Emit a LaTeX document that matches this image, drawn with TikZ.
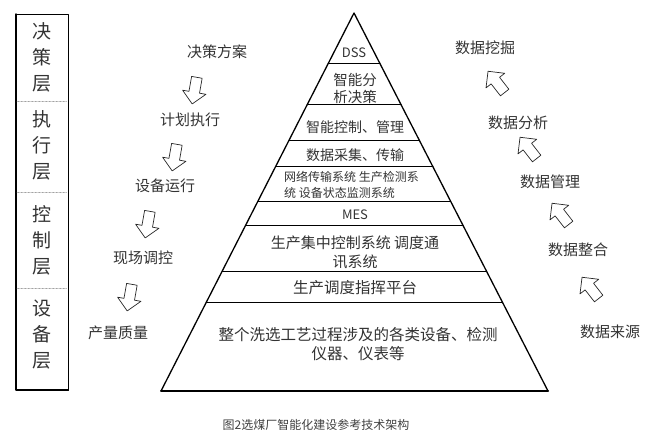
\documentclass[tikz,border=0pt]{standalone}
\usepackage{fontspec}
\setmainfont{Noto Sans CJK SC}
\usetikzlibrary{calc,shapes.arrows}
\begin{document}
\begin{tikzpicture}[x=1pt,y=-1pt,line cap=round,line join=round,
  every node/.style={text=black!80,inner sep=0pt,align=center},
  flow/.style={font=\fontsize{15}{18}\selectfont},
  tier/.style={font=\fontsize{14}{17}\selectfont},
  hollow/.style={draw=black!85,fill=white,single arrow,single arrow head extend=6.5pt,
    minimum height=27pt,inner sep=5pt,line width=0.7pt}]
  \useasboundingbox (0,0) rectangle (650,444);
  % layer column
  \draw[line width=0.6pt] (16,14) rectangle (68,390);
  \draw[line width=1.4pt] (16,14) -- (16,390) -- (68,390);
  \foreach \y in {100.7,191.7,288} \draw[densely dotted,black!45] (17,\y) -- (67,\y);
  \foreach \n/\y/\t in {dec/57/决\\策\\层,exe/145/执\\行\\层,con/240/控\\制\\层,dev/335/设\\备\\层}
    \node[font=\fontsize{19}{26}\selectfont] (\n) at (42,\y) {\t};
  % pyramid
  \coordinate (T) at (354,13); \coordinate (L) at (161,391); \coordinate (R) at (548,391);
  \draw[line width=1.3pt] (L) -- (T) -- (R);
  \draw[line width=2pt] (L) -- (R);
  \foreach \t in {0.133,0.243,0.336,0.407,0.499,0.563,0.683,0.766}
    \draw[line width=0.8pt] ($(T)!\t!(L)$) -- ($(T)!\t!(R)$);
  \node[font=\fontsize{13}{15}\selectfont] (dss) at (354,53) {DSS};
  \node[font=\fontsize{14.5}{17}\selectfont] (ida) at (355,88.5) {智能分\\析决策};
  \node[tier] (icm) at (355,127) {智能控制、管理};
  \node[tier] (dat) at (355,155) {数据采集、传输};
  \node[font=\fontsize{12}{16}\selectfont,anchor=west,align=left] (net) at (284,185)
    {网络传输系统 生产检测系\\统 设备状态监测系统};
  \node[font=\fontsize{13}{15}\selectfont] (mes) at (355,215) {MES};
  \node[flow,font=\fontsize{15}{19}\selectfont] (pcc) at (355,252.5) {生产集中控制系统 调度通\\讯系统};
  \node[flow,font=\fontsize{15.5}{19}\selectfont] (pdp) at (355,288) {生产调度指挥平台};
  \node[flow,font=\fontsize{15.5}{19}\selectfont] (eqp) at (358,344.5)
    {整个洗选工艺过程涉及的各类设备、检测\\仪器、仪表等};
  % business chain
  \node[flow] (plan) at (217,52) {决策方案};
  \node[flow] (exec) at (190,120) {计划执行};
  \node[flow] (run) at (165,186) {设备运行};
  \node[flow] (ctrl) at (143,258) {现场调控};
  \node[flow] (qual) at (118,333) {产量质量};
  \node[hollow,rotate=-100] (a1) at (195,88) {};
  \node[hollow,rotate=-100] (a2) at (175,155) {};
  \node[hollow,rotate=-100] (a3) at (148,222) {};
  \node[hollow,rotate=-100] (a4) at (130,295) {};
  % data chain
  \node[flow] (mine) at (485,48) {数据挖掘};
  \node[flow] (anal) at (518,123) {数据分析};
  \node[flow] (mgmt) at (550,182) {数据管理};
  \node[flow] (integ) at (578,250) {数据整合};
  \node[flow] (src) at (610,332) {数据来源};
  \node[hollow,rotate=128] (b1) at (498,84) {};
  \node[hollow,rotate=128] (b2) at (530,150) {};
  \node[hollow,rotate=128] (b3) at (562,216) {};
  \node[hollow,rotate=128] (b4) at (592,290) {};
  \node[font=\fontsize{12}{14}\selectfont,text=black!75] (cap) at (316,425) {图2选煤厂智能化建设参考技术架构};
\end{tikzpicture}
\end{document}
